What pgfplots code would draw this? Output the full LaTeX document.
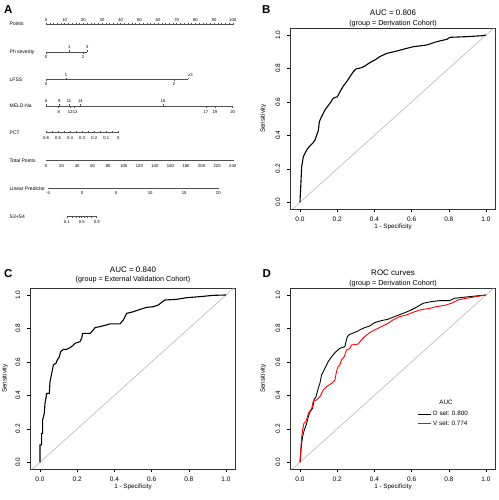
\documentclass[border=0pt]{standalone}
\usepackage{pgfplots}
\pgfplotsset{compat=1.18}
\usepackage{fontspec}
\setmainfont{Liberation Sans}
\definecolor{diag}{RGB}{185,185,185}
\definecolor{nomo}{RGB}{80,80,80}
\definecolor{rocred}{RGB}{255,0,0}
\newcommand\nlab{\fontsize{5}{6}\selectfont}
\newcommand\ntick{\fontsize{4.2}{5}\selectfont}
\newcommand\tbig{\fontsize{8}{9.4}\selectfont}
\pgfplotsset{
  roc/.style={
    scale only axis, width=204.6pt, height=180.7pt,
    xmin=-0.05, xmax=1.05, ymin=-0.04, ymax=1.04,
    xtick={0,0.2,0.4,0.6,0.8,1}, ytick={0,0.2,0.4,0.6,0.8,1},
    xtick pos=left, ytick pos=left,
    tick align=outside, major tick length=3.5pt,
    tick style={black, line width=0.5pt},
    axis line style={black!80, line width=0.55pt},
    /pgf/number format/assume math mode=true,
    /pgf/number format/fixed, /pgf/number format/fixed zerofill, /pgf/number format/precision=1,
    ticklabel style={font=\fontsize{6.5}{7.5}\selectfont},
    yticklabel style={rotate=90, anchor=south},
    xticklabel shift=1.2pt, yticklabel shift=3.4pt,
    xlabel={1 - Specificity}, ylabel={Sensitivity},
    label style={font=\fontsize{6.3}{7.5}\selectfont},
    xlabel style={at={(axis description cs:0.5,-0.1013)}, anchor=center},
    ylabel style={at={(axis description cs:-0.134,0.5)}, anchor=center},
    title style={at={(axis description cs:0.5,1)}, anchor=south, inner sep=0pt,
      yshift=-4.5pt, align=center, font=\fontsize{7.2}{9.4}\selectfont},
  },
  nscale/.style={
    scale only axis, height=1pt, ymin=0, ymax=1, hide y axis,
    tick style={draw=nomo, line width=0.4pt},
    major tick length=1.6pt, minor tick length=1pt, tick align=outside,
    /pgf/number format/assume math mode=true,
    xticklabel style={font=\ntick, inner sep=0.6pt},
    clip=false,
  },
  nline/.style={x axis line style={-, draw=nomo, line width=0.4pt},
    every outer x axis line/.append style={-}, every inner x axis line/.append style={-}},
}
\begin{document}
\begin{tikzpicture}[x=1pt,y=1pt]
\useasboundingbox (0,0) rectangle (498,500);

% ---------------- Panel A : nomogram ----------------
\begin{axis}[scale only axis, width=250pt, height=250pt, at={(0pt,500pt)}, anchor=north west,
  xmin=-24.643, xmax=109.286, ymin=0, ymax=250, y dir=reverse, hide axis, clip=false]
% row labels
\node[anchor=base west, inner sep=0, font=\nlab] at (axis cs:-19.55,25.8) {Points};
\node[anchor=base west, inner sep=0, font=\nlab] at (axis cs:-19.55,53.8) {Ph severity};
\node[anchor=base west, inner sep=0, font=\nlab] at (axis cs:-19.55,81.3) {LFSS};
\node[anchor=base west, inner sep=0, font=\nlab] at (axis cs:-19.55,107.8) {MELD-Na};
\node[anchor=base west, inner sep=0, font=\nlab] at (axis cs:-19.55,134.8) {PCT};
\node[anchor=base west, inner sep=0, font=\nlab] at (axis cs:-19.55,162.8) {Total Points};
\node[anchor=base west, inner sep=0, font=\nlab] at (axis cs:-19.55,190.8) {Linear Predictor};
\node[anchor=base west, inner sep=0, font=\nlab] at (axis cs:-19.55,218.8) {S3+S4};
% Ph severity
\addplot[draw=nomo, line width=0.4pt] coordinates {(0,52) (22.1,52)};
\addplot[only marks, mark=|, mark size=0.8pt, mark options={draw=nomo, line width=0.4pt}]
  coordinates {(12.5,51.2) (22.1,51.2) (0,52.8) (19.8,52.8)};
\node[font=\ntick, inner sep=0] at (axis cs:12.5,47.5) {1};
\node[font=\ntick, inner sep=0] at (axis cs:22.1,47.5) {3};
\node[font=\ntick, inner sep=0] at (axis cs:0,56.7) {0};
\node[font=\ntick, inner sep=0] at (axis cs:19.8,56.7) {2};
% LFSS
\addplot[draw=nomo, line width=0.4pt] coordinates {(0,79.5) (76.2,79.5)};
\addplot[only marks, mark=|, mark size=0.8pt, mark options={draw=nomo, line width=0.4pt}]
  coordinates {(10.7,78.7) (76.2,78.7) (0,80.3) (68.6,80.3)};
\node[font=\ntick, inner sep=0] at (axis cs:10.7,75.1) {1};
\node[font=\ntick, inner sep=0] at (axis cs:77.3,75.1) {≥3};
\node[font=\ntick, inner sep=0] at (axis cs:0,84.3) {0};
\node[font=\ntick, inner sep=0] at (axis cs:68.6,84.3) {2};
% MELD-Na
\addplot[draw=nomo, line width=0.4pt] coordinates {(0,106) (100,106)};
\addplot[only marks, mark=|, mark size=0.8pt, mark options={draw=nomo, line width=0.4pt}]
  coordinates {(0,105.2) (7.1,105.2) (12.3,105.2) (18.4,105.2) (62.7,105.2)
               (6.8,106.8) (13.2,106.8) (15.2,106.8) (85.6,106.8) (90.5,106.8) (100,106.8)};
\node[font=\ntick, inner sep=0] at (axis cs:0,101.5) {6};
\node[font=\ntick, inner sep=0] at (axis cs:7.1,101.5) {9};
\node[font=\ntick, inner sep=0] at (axis cs:12.3,101.5) {11};
\node[font=\ntick, inner sep=0] at (axis cs:18.4,101.5) {14};
\node[font=\ntick, inner sep=0] at (axis cs:62.7,101.5) {16};
\node[font=\ntick, inner sep=0] at (axis cs:6.8,111.7) {8};
\node[font=\ntick, inner sep=0] at (axis cs:13.0,111.7) {12};
\node[font=\ntick, inner sep=0] at (axis cs:15.6,111.7) {13};
\node[font=\ntick, inner sep=0] at (axis cs:85.6,111.7) {17};
\node[font=\ntick, inner sep=0] at (axis cs:90.5,111.7) {19};
\node[font=\ntick, inner sep=0] at (axis cs:100,111.7) {20};
% S3+S4
\addplot[draw=nomo, line width=0.4pt] coordinates {(11.09,216.7) (27.16,216.7)};
\addplot[only marks, mark=|, mark size=0.8pt, mark options={draw=nomo, line width=0.4pt}]
  coordinates {(11.09,217.5) (14.09,217.5) (16.02,217.5) (17.63,217.5) (19.12,217.5)
               (20.62,217.5) (22.23,217.5) (24.16,217.5) (27.16,217.5)};
\node[font=\ntick, inner sep=0] at (axis cs:11.09,221.9) {0.1};
\node[font=\ntick, inner sep=0] at (axis cs:19.12,221.9) {0.5};
\node[font=\ntick, inner sep=0] at (axis cs:27.16,221.9) {0.9};
\end{axis}

% Points scale
\begin{axis}[nscale, axis x line=top, nline, at={(46pt,476pt)}, anchor=north west, width=186.7pt,
  xmin=0, xmax=100, xtick={0,10,...,100}, minor tick num=4, xticklabel shift=1.2pt]
\end{axis}
% PCT scale
\begin{axis}[nscale, axis x line=bottom, nline, at={(46pt,368pt)}, anchor=south west, width=72.3pt,
  x dir=reverse, xmin=0, xmax=0.6, xtick={0,0.1,0.2,0.3,0.4,0.5,0.6}, minor tick num=1, xticklabel shift=2.6pt]
\end{axis}
% Total points scale
\begin{axis}[nscale, axis x line=bottom, nline, at={(46pt,339.3pt)}, anchor=south west, width=186.7pt,
  xmin=0, xmax=240, xtick={0,20,...,240}, minor tick num=3, xticklabel shift=2.1pt]
\end{axis}
% Linear predictor scale
\begin{axis}[nscale, axis x line=bottom, nline, at={(48pt,311.5pt)}, anchor=south west, width=170.3pt,
  xmin=-5, xmax=20, xtick={-5,0,5,10,15,20}, minor tick num=1, xticklabel shift=1.1pt]
\end{axis}

% ---------------- Panel B ----------------
\begin{axis}[roc, at={(290.7pt,291pt)}, anchor=south west,
  title={{\tbig AUC = 0.806}\\(group = Derivation Cohort)}]
\addplot[diag, line width=0.6pt] coordinates {(-0.04,-0.04) (1.04,1.04)};
\addplot[black, line width=1.1pt] coordinates {
(0,0) (0.002,0.054) (0.004,0.094) (0.009,0.213) (0.018,0.273) (0.036,0.313) (0.050,0.333)
(0.068,0.353) (0.081,0.373) (0.090,0.402) (0.099,0.432) (0.104,0.482) (0.116,0.512)
(0.134,0.552) (0.161,0.592) (0.179,0.622) (0.201,0.631) (0.215,0.661) (0.233,0.695)
(0.251,0.721) (0.269,0.751) (0.287,0.781) (0.301,0.797) (0.332,0.805) (0.349,0.815)
(0.376,0.835) (0.403,0.851) (0.430,0.871) (0.466,0.890) (0.520,0.904) (0.573,0.920)
(0.609,0.930) (0.681,0.940) (0.735,0.960) (0.789,0.974) (0.806,0.986) (0.896,0.990)
(0.986,0.996) (1,1)};
\end{axis}

% ---------------- Panel C ----------------
\begin{axis}[roc, at={(30.7pt,31pt)}, anchor=south west,
  title style={yshift=3.3pt},
  ylabel style={at={(axis description cs:-0.126,0.5)}},
  title={{\tbig AUC = 0.840}\\(group = External Validation Cohort)}]
\addplot[diag, line width=0.6pt] coordinates {(-0.04,-0.04) (1.04,1.04)};
\addplot[black, line width=1.1pt] coordinates {
(0,0) (0,0.104) (0.009,0.104) (0.009,0.173) (0.014,0.173) (0.014,0.253) (0.023,0.293)
(0.027,0.353) (0.036,0.412) (0.050,0.412) (0.054,0.482) (0.063,0.532) (0.072,0.582)
(0.086,0.592) (0.093,0.612) (0.104,0.631) (0.111,0.661) (0.125,0.675) (0.143,0.675)
(0.161,0.685) (0.176,0.697) (0.188,0.711) (0.215,0.721) (0.224,0.741) (0.229,0.771)
(0.269,0.771) (0.287,0.791) (0.296,0.805) (0.323,0.811) (0.358,0.821) (0.376,0.827)
(0.430,0.827) (0.448,0.851) (0.466,0.890) (0.502,0.900) (0.538,0.914) (0.573,0.926)
(0.609,0.930) (0.636,0.940) (0.654,0.956) (0.672,0.970) (0.735,0.974) (0.789,0.984)
(0.860,0.990) (0.932,0.998) (1,1)};
\end{axis}

% ---------------- Panel D ----------------
\begin{axis}[roc, at={(290.7pt,31pt)}, anchor=south west,
  title={{\tbig ROC curves}\\(group = Derivation Cohort)},
  legend style={at={(axis cs:0.632,0.317)}, anchor=north west, draw=none, fill=none,
    inner sep=0pt, font=\fontsize{6.3}{7.5}\selectfont, row sep=-0.5pt},
  legend cell align=left]
\addplot[diag, line width=0.6pt, forget plot] coordinates {(-0.04,-0.04) (1.04,1.04)};
\addplot[black, line width=0.9pt, forget plot] coordinates {
(0,0) (0.004,0.054) (0.009,0.114) (0.014,0.153) (0.023,0.193) (0.036,0.233) (0.045,0.273)
(0.054,0.303) (0.068,0.323) (0.075,0.373) (0.086,0.392) (0.098,0.442) (0.107,0.472)
(0.116,0.522) (0.134,0.562) (0.152,0.602) (0.170,0.631) (0.193,0.661) (0.214,0.681)
(0.241,0.691) (0.254,0.751) (0.268,0.765) (0.304,0.781) (0.339,0.801) (0.375,0.815)
(0.402,0.835) (0.438,0.847) (0.473,0.855) (0.518,0.875) (0.554,0.890) (0.589,0.906)
(0.625,0.926) (0.661,0.950) (0.705,0.960) (0.750,0.966) (0.804,0.966) (0.830,0.980)
(0.875,0.986) (0.946,0.994) (1,1)};
\addplot[rocred, line width=0.9pt, forget plot] coordinates {
(0,0) (0.004,0.074) (0.009,0.153) (0.014,0.193) (0.021,0.233) (0.032,0.243) (0.045,0.293)
(0.063,0.323) (0.071,0.363) (0.089,0.373) (0.107,0.392) (0.125,0.432) (0.143,0.452)
(0.170,0.472) (0.188,0.492) (0.196,0.542) (0.205,0.572) (0.214,0.582) (0.223,0.612)
(0.238,0.631) (0.250,0.671) (0.268,0.681) (0.277,0.701) (0.313,0.707) (0.330,0.731)
(0.348,0.751) (0.375,0.775) (0.402,0.791) (0.438,0.811) (0.473,0.831) (0.500,0.851)
(0.536,0.871) (0.571,0.880) (0.607,0.896) (0.643,0.910) (0.696,0.920) (0.732,0.930)
(0.786,0.940) (0.821,0.954) (0.848,0.970) (0.893,0.980) (0.946,0.990) (1,1)};
\addlegendimage{legend image code/.code={\draw[black, line width=0.75pt] (0pt,0pt) -- (12.7pt,0pt);}}
\addlegendentry{D set: 0.800}
\addlegendimage{legend image code/.code={\draw[rocred, line width=0.75pt] (0pt,0pt) -- (12.7pt,0pt);}}
\addlegendentry{V set: 0.774}
\node[font=\fontsize{6.3}{7.5}\selectfont] at (axis cs:0.785,0.356) {AUC};
\end{axis}

% panel letters
\node[anchor=base west, inner sep=0, font=\bfseries\fontsize{11.5}{13}\selectfont] at (4,486.7) {A};
\node[anchor=base west, inner sep=0, font=\bfseries\fontsize{11.5}{13}\selectfont] at (262,486.7) {B};
\node[anchor=base west, inner sep=0, font=\bfseries\fontsize{11.5}{13}\selectfont] at (4,222.7) {C};
\node[anchor=base west, inner sep=0, font=\bfseries\fontsize{11.5}{13}\selectfont] at (262.5,222.7) {D};
\end{tikzpicture}
\end{document}
